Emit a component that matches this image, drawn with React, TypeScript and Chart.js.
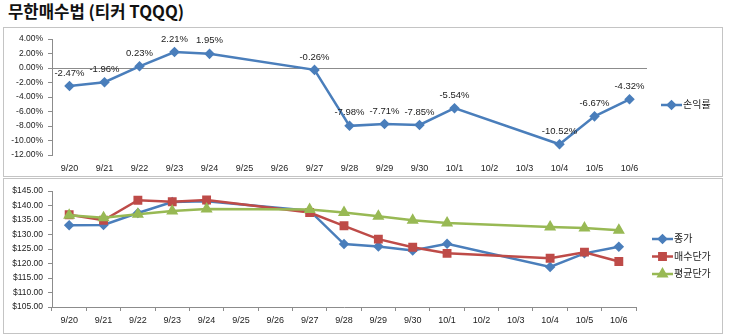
import React, { useEffect, useRef } from "react";
import { Chart, registerables } from "chart.js";
import { drawPoint } from "chart.js/helpers";

Chart.register(...registerables);

const categories = ["9/20", "9/21", "9/22", "9/23", "9/24", "9/25", "9/26", "9/27", "9/28", "9/29", "9/30", "10/1", "10/2", "10/3", "10/4", "10/5", "10/6"];
const returnRate = [-2.47, -1.96, 0.23, 2.21, 1.95, null, null, -0.26, -7.98, -7.71, -7.85, -5.54, null, null, -10.52, -6.67, -4.32];
const closePrice = [133.2, 133.3, 137.4, 141.2, 141.5, null, null, 138.2, 126.7, 125.9, 124.5, 126.8, null, null, 118.8, 123.5, 125.8];
const buyPrice = [136.8, 134.9, 141.8, 141.3, 141.9, null, null, 137.6, 133.0, 128.4, 125.6, 123.5, null, null, 121.8, 123.9, 120.7];
const avgPrice = [136.6, 135.8, 137.0, 138.1, 138.8, null, null, 138.6, 137.6, 136.3, 134.9, 134.0, null, null, 132.6, 132.2, 131.5];

const rateAxis = { min: -12, max: 4, step: 2 };
const priceAxis = { min: 105, max: 145, step: 5 };

const BLUE = "#4a7ebb";
const RED = "#be4b48";
const GREEN = "#98b954";
const AXIS = "#8c8c8c";
const FONT = "'Liberation Sans', 'Noto Sans CJK KR', sans-serif";

const legendPlugin = {
  id: "customLegend",
  afterDraw(chart: any, _args: any, opts: any) {
    const { ctx } = chart;
    chart.data.datasets.forEach((ds: any, i: number) => {
      const y = opts.y + i * opts.spacing;
      const x0 = chart.chartArea.right + opts.dx;
      ctx.save();
      ctx.strokeStyle = ds.borderColor;
      ctx.lineWidth = 2.5;
      ctx.beginPath();
      ctx.moveTo(x0, y);
      ctx.lineTo(x0 + opts.len, y);
      ctx.stroke();
      ctx.fillStyle = ds.borderColor;
      drawPoint(ctx, { pointStyle: ds.pointStyle, radius: ds.pointRadius, borderWidth: 1, rotation: 0 } as any, x0 + opts.len / 2, y);
      ctx.fillStyle = "#222";
      ctx.font = `10px ${FONT}`;
      ctx.textBaseline = "middle";
      ctx.textAlign = "left";
      ctx.fillText(ds.label, x0 + opts.len + 1, y + 0.5);
      ctx.restore();
    });
  },
};

const valueLabelPlugin = {
  id: "valueLabels",
  afterDatasetsDraw(chart: any) {
    const { ctx } = chart;
    const meta = chart.getDatasetMeta(0);
    const data = chart.data.datasets[0].data;
    ctx.save();
    ctx.fillStyle = "#222";
    ctx.font = `9.5px ${FONT}`;
    ctx.textAlign = "center";
    ctx.textBaseline = "middle";
    meta.data.forEach((pt: any, i: number) => {
      const v = data[i];
      if (v === null || v === undefined) return;
      ctx.fillText(v.toFixed(2) + "%", pt.x, pt.y - 13);
    });
    ctx.restore();
  },
};

function TopChart() {
  const ref = useRef<HTMLCanvasElement>(null);
  useEffect(() => {
    const chart = new Chart(ref.current as HTMLCanvasElement, {
      type: "line",
      data: {
        labels: categories,
        datasets: [
          {
            label: "손익률",
            data: returnRate,
            borderColor: BLUE,
            backgroundColor: BLUE,
            borderWidth: 2.5,
            pointStyle: "rectRot",
            pointRadius: 3.5,
            pointHoverRadius: 3.5,
            tension: 0,
            spanGaps: true,
          } as any,
        ],
      },
      options: {
        animation: false,
        responsive: false,
        events: [],
        layout: { padding: { top: 11, right: 75, bottom: 0, left: 0 } },
        plugins: {
          legend: { display: false },
          tooltip: { enabled: false },
          customLegend: { y: 77, spacing: 0, dx: 14, len: 21 },
        } as any,
        scales: {
          x: {
            offset: true,
            border: { display: false },
            grid: { display: false, drawTicks: false },
            ticks: { padding: 8, color: "#222", font: { size: 9, family: FONT }, maxRotation: 0, autoSkip: false },
            afterFit: (s: any) => { s.height = 21; },
          },
          y: {
            min: rateAxis.min,
            max: rateAxis.max,
            border: { display: true, color: AXIS, width: 1 },
            grid: {
              drawOnChartArea: true,
              color: (c: any) => (c.tick && c.tick.value === 0 ? AXIS : "rgba(0,0,0,0)"),
              tickColor: AXIS,
              tickLength: 4,
            },
            ticks: {
              stepSize: rateAxis.step,
              padding: 5,
              color: "#222",
              font: { size: 8.5, family: FONT },
              callback: (v: any) => Number(v).toFixed(2) + "%",
            },
            afterFit: (s: any) => { s.width = 48; },
          },
        },
      },
      plugins: [legendPlugin, valueLabelPlugin],
    });
    return () => chart.destroy();
  }, []);
  return <canvas ref={ref} width={718} height={148} style={{ position: "absolute", left: 4, top: 28, width: 718, height: 148 }} />;
}

function BottomChart() {
  const ref = useRef<HTMLCanvasElement>(null);
  useEffect(() => {
    const common = { borderWidth: 2.5, tension: 0, spanGaps: true };
    const chart = new Chart(ref.current as HTMLCanvasElement, {
      type: "line",
      data: {
        labels: categories,
        datasets: [
          { ...common, label: "종가", data: closePrice, borderColor: BLUE, backgroundColor: BLUE, pointStyle: "rectRot", pointRadius: 3.5, pointHoverRadius: 3.5, order: 2 } as any,
          { ...common, label: "매수단가", data: buyPrice, borderColor: RED, backgroundColor: RED, pointStyle: "rect", pointRadius: 4.5, pointHoverRadius: 4.5, order: 1 } as any,
          { ...common, label: "평균단가", data: avgPrice, borderColor: GREEN, backgroundColor: GREEN, pointStyle: "triangle", pointRadius: 4.5, pointHoverRadius: 4.5, order: 0 } as any,
        ],
      },
      options: {
        animation: false,
        responsive: false,
        events: [],
        layout: { padding: { top: 12, right: 86, bottom: 0, left: 0 } },
        plugins: {
          legend: { display: false },
          tooltip: { enabled: false },
          customLegend: { y: 60, spacing: 17.5, dx: 16, len: 21 },
        } as any,
        scales: {
          x: {
            offset: true,
            border: { display: true, color: AXIS, width: 1 },
            grid: { offset: true, drawOnChartArea: false, color: AXIS, tickLength: 4 },
            ticks: { padding: 4, color: "#222", font: { size: 9, family: FONT }, maxRotation: 0, autoSkip: false },
            afterFit: (s: any) => { s.height = 26; },
          },
          y: {
            min: priceAxis.min,
            max: priceAxis.max,
            border: { display: true, color: AXIS, width: 1 },
            grid: { drawOnChartArea: false, tickColor: AXIS, color: AXIS, tickLength: 4 },
            ticks: {
              stepSize: priceAxis.step,
              padding: 5,
              color: "#222",
              font: { size: 8.5, family: FONT },
              callback: (v: any) => "$" + Number(v).toFixed(2),
            },
            afterFit: (s: any) => { s.width = 48; },
          },
        },
      },
      plugins: [legendPlugin],
    });
    return () => chart.destroy();
  }, []);
  return <canvas ref={ref} width={718} height={154} style={{ position: "absolute", left: 4, top: 179, width: 718, height: 154 }} />;
}

export default function App() {
  return (
    <div style={{ position: "absolute", left: 0, top: 0, width: 743, height: 336, background: "#fff", overflow: "hidden" }}>
      <div
        style={{
          position: "absolute",
          left: 8,
          top: 0,
          height: 23,
          lineHeight: "23px",
          fontFamily: "'Noto Sans CJK KR', sans-serif",
          fontWeight: 700,
          fontSize: 16.7,
          color: "#111",
          whiteSpace: "nowrap",
        }}
      >
        무한매수법 (티커 TQQQ)
      </div>
      <div style={{ position: "absolute", left: 3, top: 27, width: 718, height: 148, border: "1px solid #c4c4c4" }} />
      <div style={{ position: "absolute", left: 3, top: 178, width: 718, height: 154, border: "1px solid #c4c4c4" }} />
      <TopChart />
      <BottomChart />
    </div>
  );
}
